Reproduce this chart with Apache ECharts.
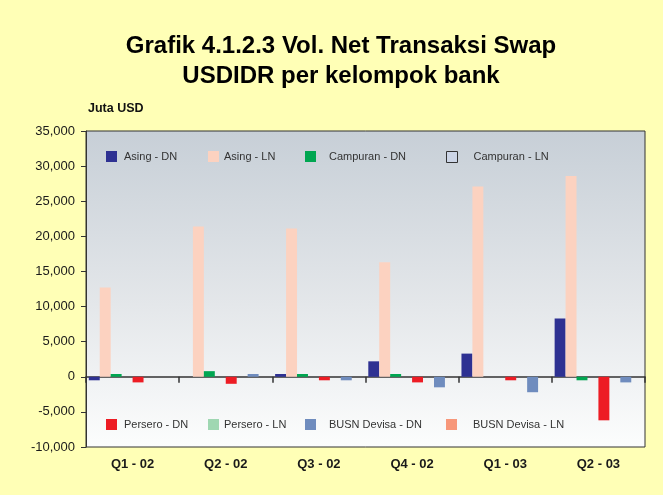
<!DOCTYPE html>
<html>
<head>
<meta charset="utf-8">
<script src="https://cdn.jsdelivr.net/npm/echarts@6/dist/echarts.min.js"></script>
<style>
  html, body { margin: 0; padding: 0; background: #ffffb6; }
  #chart { width: 663px; height: 495px; }
</style>
</head>
<body>
<div id="chart"></div>
<script>
// quarters on the x axis
const categories = ['Q1 - 02', 'Q2 - 02', 'Q3 - 02', 'Q4 - 02', 'Q1 - 03', 'Q2 - 03']
const yTicks = { min: -10000, max: 35000, interval: 5000 }

// Juta USD
const asingDN = [-500, 0, 400, 2200, 3300, 8300]
const asingLN = [12700, 21400, 21100, 16300, 27100, 28600]
const campuranDN = [400, 800, 400, 400, 0, -500]
const campuranLN = [0, 0, 0, 0, 0, 0]
const perseroDN = [-800, -1000, -500, -800, -500, -6200]
const perseroLN = [0, 0, 0, 0, 0, 0]
const busnDN = [0, 400, -500, -1500, -2200, -800]
const busnLN = [0, 0, 0, 0, 0, 0]

const seriesDefs = [
  { name: 'Asing - DN', data: asingDN, color: '#2e3192' },
  { name: 'Asing - LN', data: asingLN, color: '#fcd2c0' },
  { name: 'Campuran - DN', data: campuranDN, color: '#00a651' },
  { name: 'Campuran - LN', data: campuranLN, color: '#ccd5e6' },
  { name: 'Persero - DN', data: perseroDN, color: '#ed1c24' },
  { name: 'Persero - LN', data: perseroLN, color: '#9fd7b2' },
  { name: 'BUSN Devisa - DN', data: busnDN, color: '#6f8cbe' },
  { name: 'BUSN Devisa - LN', data: busnLN, color: '#f7977a' },
]

const FONT = '"Liberation Sans", Arial, sans-serif'

// one legend per entry so each sits where it does in the original
const legendSpots = [
  { left: 106, top: 151, pad: 2 },
  { left: 208, top: 151, pad: 0 },
  { left: 305, top: 151, pad: 8 },
  { left: 446, top: 151, pad: 11 },
  { left: 106, top: 419, pad: 2 },
  { left: 208, top: 419, pad: 0 },
  { left: 305, top: 419, pad: 8 },
  { left: 446, top: 419, pad: 11 },
]

const legends = seriesDefs.map((s, i) => ({
  left: legendSpots[i].left,
  top: legendSpots[i].top,
  padding: 0,
  itemWidth: 11,
  itemHeight: 11,
  icon: 'rect',
  selectedMode: false,
  data: [s.name === 'Campuran - LN'
    ? { name: s.name, itemStyle: { borderColor: '#333', borderWidth: 1 } }
    : s.name],
  textStyle: {
    fontFamily: FONT,
    fontSize: 11,
    color: '#333',
    padding: [2, 0, 0, legendSpots[i].pad],
  },
}))

const chart = echarts.init(document.getElementById('chart'), null, { renderer: 'canvas' })

chart.setOption({
  backgroundColor: '#ffffb6',
  animation: false,
  title: {
    text: 'Juta USD',
    left: 88,
    top: 102,
    padding: 0,
    textStyle: { fontFamily: FONT, fontSize: 12.5, fontWeight: 'bold', color: '#111' },
  },
  graphic: [
    {
      type: 'text',
      x: 341,
      y: 61,
      style: {
        text: 'Grafik 4.1.2.3 Vol. Net Transaksi Swap\nUSDIDR per kelompok bank',
        font: 'bold 24px ' + FONT,
        fill: '#000',
        align: 'center',
        verticalAlign: 'middle',
        lineHeight: 30,
      },
    },
  ],
  legend: legends,
  grid: {
    left: 86,
    right: 18,
    top: 131,
    bottom: 48,
    show: true,
    borderColor: '#333',
    borderWidth: 1,
    backgroundColor: new echarts.graphic.LinearGradient(0, 0, 0, 1, [
      { offset: 0, color: '#c7cfd7' },
      { offset: 0.55, color: '#e4e7ea' },
      { offset: 1, color: '#fcfdfd' },
    ]),
  },
  xAxis: [
    {
      // zero line with the group separators
      type: 'category',
      data: categories,
      axisLine: { onZero: true, lineStyle: { color: '#333', width: 1.5 } },
      axisTick: { show: true, length: 6, lineStyle: { color: '#333', width: 1.5 } },
      axisLabel: { show: false },
    },
    {
      type: 'category',
      data: categories,
      position: 'bottom',
      axisLine: { show: false, onZero: false },
      axisTick: { show: false },
      axisLabel: {
        fontFamily: FONT,
        fontSize: 13,
        fontWeight: 'bold',
        color: '#1a1a1a',
        margin: 11,
      },
    },
  ],
  yAxis: {
    type: 'value',
    min: yTicks.min,
    max: yTicks.max,
    interval: yTicks.interval,
    axisLine: { show: true, lineStyle: { color: '#333' } },
    axisTick: { show: true, length: 5, lineStyle: { color: '#333' } },
    splitLine: { show: false },
    axisLabel: {
      fontFamily: FONT,
      fontSize: 13,
      color: '#1a1a1a',
      margin: 11,
      formatter: (v) => v.toLocaleString('en-US'),
    },
  },
  series: seriesDefs.map((s) => ({
    name: s.name,
    type: 'bar',
    xAxisIndex: 0,
    data: s.data,
    barGap: '0%',
    barCategoryGap: '6%',
    itemStyle: { color: s.color },
  })),
})
</script>
</body>
</html>
